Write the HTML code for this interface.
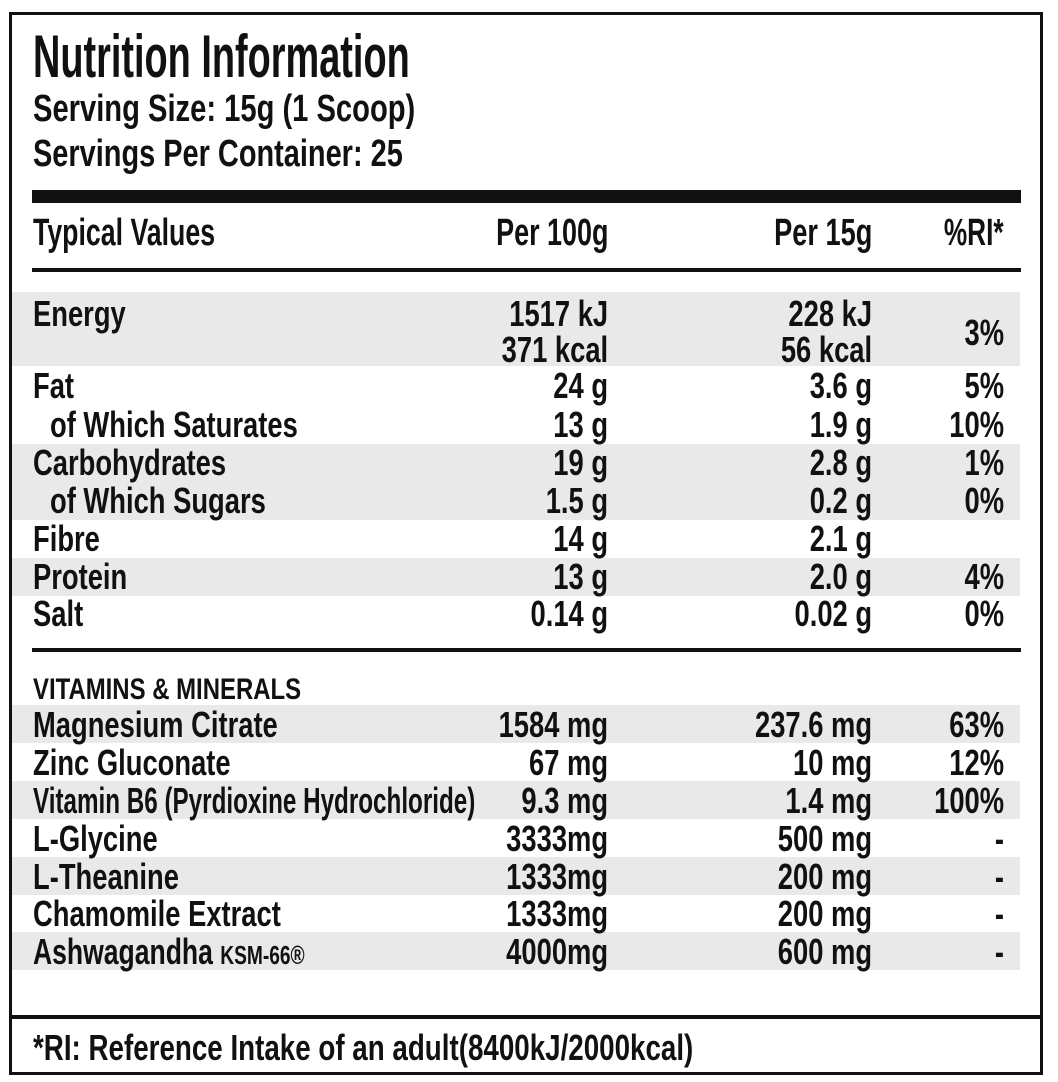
<!DOCTYPE html>
<html><head><meta charset="utf-8"><style>
html,body{margin:0;padding:0;background:#fff;}
#c{position:relative;width:1058px;height:1082px;overflow:hidden;font-family:"Liberation Sans",sans-serif;font-weight:bold;color:#111;}
.t{position:absolute;white-space:nowrap;line-height:1;font-size:36px;}
.l{transform-origin:0 0;}
.r{transform-origin:100% 0;}
.bar{position:absolute;background:#111;}
.st{position:absolute;left:12px;width:1008px;background:#e9e9e9;}
</style></head><body><div id="c">
<div class="bar" style="left:9px;top:12px;width:1034px;height:3px"></div>
<div class="bar" style="left:9px;top:1072px;width:1034px;height:3px"></div>
<div class="bar" style="left:9px;top:12px;width:3px;height:1063px"></div>
<div class="bar" style="left:1040px;top:12px;width:3px;height:1063px"></div>
<div class="bar" style="left:9px;top:1015px;width:1034px;height:4px"></div>
<div class="bar" style="left:32px;top:190px;width:989px;height:13px"></div>
<div class="bar" style="left:32px;top:268px;width:989px;height:4px"></div>
<div class="bar" style="left:32px;top:648px;width:989px;height:4px"></div>
<div class="st" style="top:292px;height:74px"></div>
<div class="st" style="top:444px;height:76px"></div>
<div class="st" style="top:558px;height:38px"></div>
<div class="st" style="top:705px;height:38px"></div>
<div class="st" style="top:781px;height:38px"></div>
<div class="st" style="top:857px;height:38px"></div>
<div class="st" style="top:932px;height:38px"></div>
<div id="txt"></div>
</div>
<script>
var S=0.76;
var rows=[
[33,78,"Nutrition Information",60,"l",377],
[33,122,"Serving Size: 15g (1 Scoop)",38,"l",382],
[33,167,"Servings Per Container: 25",38,"l",370],
[33,246,"Typical Values",38,"l",182],
[608,246,"Per 100g",38,"r",112],[872,246,"Per 15g",38,"r",98],[1004,246,"%RI*",38,"r",60],
[33,326,"Energy"],[608,326,"1517 kJ"],[872,326,"228 kJ"],[608,362,"371 kcal"],[872,362,"56 kcal"],[1004,345,"3%"],
[33,398,"Fat"],[608,398,"24 g"],[872,398,"3.6 g"],[1004,398,"5%"],
[50,437,"of Which Saturates"],[608,437,"13 g"],[872,437,"1.9 g"],[1004,437,"10%"],
[33,475,"Carbohydrates"],[608,475,"19 g"],[872,475,"2.8 g"],[1004,475,"1%"],
[50,513,"of Which Sugars"],[608,513,"1.5 g"],[872,513,"0.2 g"],[1004,513,"0%"],
[33,551,"Fibre"],[608,551,"14 g"],[872,551,"2.1 g"],
[33,589,"Protein"],[608,589,"13 g"],[872,589,"2.0 g"],[1004,589,"4%"],
[33,626,"Salt"],[608,626,"0.14 g"],[872,626,"0.02 g"],[1004,626,"0%"],
[33,700,"VITAMINS & MINERALS",30,"l",268],
[33,737,"Magnesium Citrate"],[608,737,"1584 mg"],[872,737,"237.6 mg"],[1004,737,"63%"],
[33,775,"Zinc Gluconate"],[608,775,"67 mg"],[872,775,"10 mg"],[1004,775,"12%"],
[33,813,"Vitamin B6 (Pyrdioxine Hydrochloride)",36,"l",442],[608,813,"9.3 mg"],[872,813,"1.4 mg"],[1004,813,"100%"],
[33,851,"L-Glycine"],[608,851,"3333mg"],[872,851,"500 mg"],[1004,851,"-"],
[33,889,"L-Theanine"],[608,889,"1333mg"],[872,889,"200 mg"],[1004,889,"-"],
[33,926,"Chamomile Extract"],[608,926,"1333mg"],[872,926,"200 mg"],[1004,926,"-"],
[33,964,"Ashwagandha <span style='font-size:26px'>KSM-66®</span>",36,"l",272],[608,964,"4000mg"],[872,964,"600 mg"],[1004,964,"-"],
[33,1060,"*RI: Reference Intake of an adult(8400kJ/2000kcal)",36,"l",660]
];
var box=document.getElementById('txt');
rows.forEach(function(r){
 var x=r[0],b=r[1],fs=r[3]||36,a=r[4]||(x>500?"r":"l");
 var d=document.createElement('div');d.className='t '+a;d.innerHTML=r[2];d.style.fontSize=fs+'px';
 d.style.top=(b-0.8465*fs)+'px';
 box.appendChild(d);
 var sc=S;
 if(r[5]){sc=r[5]/d.offsetWidth;}
 if(a=="l"){d.style.left=x+'px';}else{d.style.left=(x-d.offsetWidth)+'px';}
 d.style.transform='scaleX('+sc+')';
});
</script>
</body></html>
